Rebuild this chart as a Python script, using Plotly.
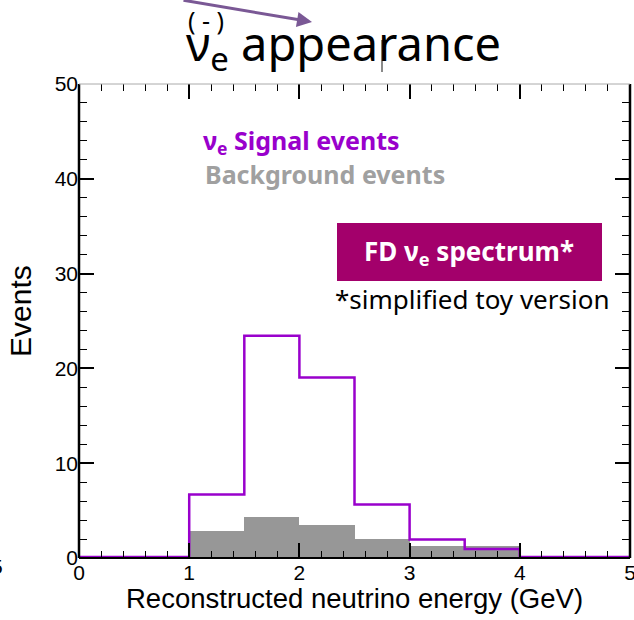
import plotly.graph_objects as go

# ---- data ----
bin_edges = [0.0, 0.5, 1.0, 1.5, 2.0, 2.5, 3.0, 3.5, 4.0, 4.5, 5.0]
signal_events = [0.1, 0.1, 6.7, 23.45, 19.05, 5.65, 1.95, 0.95, 0.1, 0.1]
background_events = [0.0, 0.0, 2.83, 4.28, 3.44, 2.03, 1.27, 1.27, 0.0, 0.0]
x_ticks = [0, 1, 2, 3, 4, 5]
y_ticks = [0, 10, 20, 30, 40, 50]

W, H = 634, 620
ML, MR, MT, MB = 79, 4, 84, 62
PW, PH = W - ML - MR, H - MT - MB

def px(x):
    return (x - ML) / PW

def py(y):
    return (H - MB - y) / PH

centers = [(a + b) / 2 for a, b in zip(bin_edges[:-1], bin_edges[1:])]
widths = [b - a for a, b in zip(bin_edges[:-1], bin_edges[1:])]

SIG = "#9900cc"
GRAY = "#979797"
TICKFONT = "Liberation Sans, Arial"

fig = go.Figure()
fig.add_trace(go.Bar(x=centers, y=background_events, width=widths,
                     marker=dict(color=GRAY, line=dict(width=0)),
                     showlegend=False, hoverinfo="skip"))
fig.add_trace(go.Scatter(x=bin_edges, y=signal_events + [signal_events[-1]],
                         mode="lines", line=dict(color=SIG, width=2.5, shape="hv"),
                         showlegend=False, cliponaxis=False, hoverinfo="skip"))

axis_common = dict(showline=False, mirror="allticks", ticks="inside",
                   tickcolor="black", tickwidth=1.5, ticklen=15,
                   showgrid=False, zeroline=False, ticklabeloverflow="allow",
                   automargin=False,
                   tickfont=dict(family=TICKFONT, size=21, color="black"))

fig.update_xaxes(range=[-0.0002, 5.0002], tickvals=x_ticks,
                 ticktext=[str(v) for v in x_ticks],
                 minor=dict(ticks="inside", tickvals=[i * 0.2 for i in range(26)],
                            ticklen=7, tickcolor="black",
                            tickwidth=1.2, showgrid=False),
                 **axis_common)
fig.update_yaxes(range=[-0.002, 50.002], tickvals=y_ticks,
                 ticktext=[str(v) for v in y_ticks],
                 minor=dict(ticks="inside", dtick=2, ticklen=8, tickcolor="black",
                            tickwidth=1.2, showgrid=False),
                 **axis_common)

shapes = [
    # frame
    dict(type="line", xref="paper", yref="paper", x0=0, x1=1, y0=0, y1=0,
         line=dict(color="black", width=2)),
    dict(type="line", xref="paper", yref="paper", x0=0, x1=0, y0=0, y1=1,
         line=dict(color="black", width=2.5)),
    dict(type="line", xref="paper", yref="paper", x0=1, x1=1, y0=0, y1=1,
         line=dict(color="black", width=2.5)),
    dict(type="line", xref="paper", yref="paper", x0=0, x1=1, y0=1, y1=1,
         line=dict(color="#aaaaaa", width=1)),
    # box
    dict(type="rect", xref="paper", yref="paper", x0=px(337), x1=px(602),
         y0=py(281), y1=py(223), fillcolor="#a3006b", line=dict(width=0)),
    # small gray stroke in title
    dict(type="line", xref="paper", yref="paper", x0=px(382), x1=px(382),
         y0=py(72), y1=py(40), line=dict(color="#8a8a8a", width=2)),
]

TEXTFONT = "Noto Sans, Lato, DejaVu Sans"
annotations = [
    dict(text="ν<sub>e</sub> appearance", x=px(184), y=py(46), xanchor="left",
         yanchor="middle", font=dict(family=TEXTFONT, size=47, color="black")),
    dict(text="( - )", x=px(206), y=py(20), xanchor="center", yanchor="middle",
         font=dict(family=TEXTFONT, size=25, color="black")),
    dict(text="", x=px(312), y=py(22), ax=-130, ay=-26, showarrow=True,
         arrowhead=2, arrowsize=1, arrowwidth=3, arrowcolor="#7a5895"),
    dict(text="<b>ν<sub>e</sub> Signal events</b>", x=px(201), y=py(142),
         xanchor="left", yanchor="middle",
         font=dict(family=TEXTFONT, size=25, color=SIG)),
    dict(text="<b>Background events</b>", x=px(203), y=py(174),
         xanchor="left", yanchor="middle",
         font=dict(family=TEXTFONT, size=25, color="#a0a0a0")),
    dict(text="<b>FD ν<sub>e</sub> spectrum*</b>", x=px(469), y=py(252),
         xanchor="center", yanchor="middle",
         font=dict(family=TEXTFONT, size=26, color="white")),
    dict(text="*simplified toy version", x=px(472), y=py(299),
         xanchor="center", yanchor="middle",
         font=dict(family=TEXTFONT, size=26, color="black")),
    dict(text="Events", x=px(20), y=py(311), xanchor="center", yanchor="middle",
         textangle=-90, font=dict(family=TICKFONT, size=30, color="black")),
    dict(text="Reconstructed neutrino energy (GeV)", x=px(354), y=py(598),
         xanchor="center", yanchor="middle",
         font=dict(family=TICKFONT, size=27.5, color="black")),
    dict(text="5", x=px(5), y=py(566), xanchor="right", yanchor="middle",
         font=dict(family=TICKFONT, size=21, color="black")),
]
for a in annotations:
    a.setdefault("xref", "paper")
    a.setdefault("yref", "paper")
    a.setdefault("showarrow", False)

fig.update_layout(width=W, height=H, margin=dict(l=ML, r=MR, t=MT, b=MB),
                  paper_bgcolor="white", plot_bgcolor="white",
                  bargap=0, shapes=shapes, annotations=annotations,
                  showlegend=False)

fig.write_html("out.html")
